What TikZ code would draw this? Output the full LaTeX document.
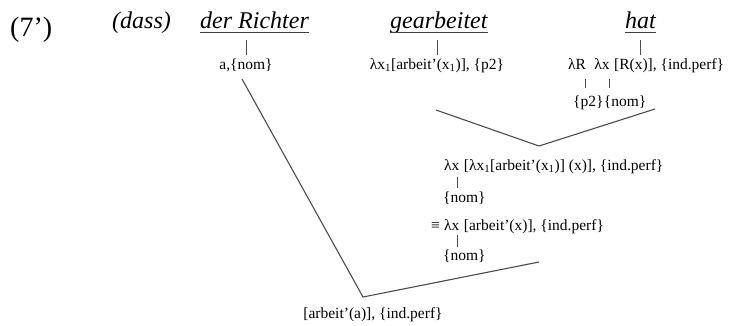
\documentclass[tikz,border=0pt]{standalone}
\usepackage{fontspec}
\setmainfont{Liberation Serif}
\usetikzlibrary{positioning}
\newcommand{\one}{\textsubscript{1}}

\begin{document}
\begin{tikzpicture}[x=1pt,y=-1pt,
  lbl/.style={inner sep=0pt,font=\fontsize{15.5}{18}\selectfont,text height=11pt,text depth=4pt},
  head/.style={inner sep=0pt,font=\fontsize{24}{28}\selectfont\itshape,text depth=4pt},
  branch/.style={draw=black!70,line width=1.1pt},
  tick/.style={draw=black!70,line width=0.7pt},
  uline/.style={draw=black!75,line width=1.2pt}]
  \useasboundingbox (0,0) rectangle (741,325);
  % example number and the three words
  \node[inner sep=0pt,anchor=base west,font=\fontsize{28}{32}\selectfont] (num) at (10,36) {(7’)};
  \node[head,anchor=base west] (dass) at (112,28) {(dass)};
  \node[head,anchor=base west] (richter) at (200,28) {der Richter};
  \node[head,anchor=base west] (gearb) at (390,28) {gearbeitet};
  \node[head,anchor=base west] (hat) at (625,28) {hat};
  \foreach \w in {richter,gearb,hat}
    \draw[uline] (\w.south west) -- (\w.south east);
  % lexical entries
  \node[lbl,anchor=base] (anom) at (246,69) {a,\{nom\}};
  \node[lbl,anchor=base] (gl) at (437,69) {λx\one[arbeit’(x\one)], \{p2\}};
  \node[lbl,anchor=base west] (lR) at (568,69) {λR};
  \node[lbl,base right=8pt of lR] (lx) {λx};
  \node[lbl,base right=4pt of lx] (rx) {[R(x)], \{ind.perf\}};
  \node[lbl,anchor=base west] (p2) at (573,106) {\{p2\}};
  \node[lbl,base right=0pt of p2] (nomb) {\{nom\}};
  \draw[tick,shorten <=8pt,shorten >=3pt] (anom.north |- richter.south) -- (anom.north);
  \draw[tick,shorten <=8pt,shorten >=3pt] (gl.north |- gearb.south) -- (gl.north);
  \draw[tick,shorten <=8pt,shorten >=3pt] (hat.south) -- (hat.south |- rx.north);
  \draw[tick,shorten <=6pt,shorten >=7pt] ([xshift=8.5pt]lR.south) -- ([xshift=8.5pt]lR.south |- p2.north);
  \draw[tick,shorten <=6pt,shorten >=7pt] ([xshift=7pt]lx.south) -- ([xshift=7pt]lx.south |- nomb.north);
  % composition of gearbeitet and hat
  \coordinate (vL) at (436,110);
  \coordinate (vB) at (539,146);
  \coordinate (vR) at (655,109);
  \draw[branch] (vL) -- (vB) -- (vR);
  \node[lbl,anchor=base west] (ml1) at (444,170) {λx};
  \node[lbl,base right=4pt of ml1] (mr1) {[λx\one[arbeit’(x\one)] (x)], \{ind.perf\}};
  \node[lbl,anchor=base west] (nom1) at (443,202) {\{nom\}};
  \node[lbl,anchor=base west] (ml2) at (444,230) {λx};
  \node[lbl,base left=4pt of ml2] (eq) {≡};
  \node[lbl,base right=4pt of ml2] (mr2) {[arbeit’(x)], \{ind.perf\}};
  \node[lbl,anchor=base west] (nom2) at (443,260) {\{nom\}};
  \draw[tick,shorten <=3pt,shorten >=3pt] ([xshift=6pt]ml1.south) -- ([xshift=6pt]ml1.south |- nom1.north);
  \draw[tick,shorten <=1pt,shorten >=2pt] ([xshift=6pt]ml2.south) -- ([xshift=6pt]ml2.south |- nom2.north);
  % subject combines
  \coordinate (sA) at (242,79);
  \coordinate (sB) at (363,297);
  \coordinate (sC) at (539,262);
  \draw[branch] (sA) -- (sB) -- (sC);
  \node[lbl,anchor=base] (res) at (373,318) {[arbeit’(a)], \{ind.perf\}};
\end{tikzpicture}
\end{document}
